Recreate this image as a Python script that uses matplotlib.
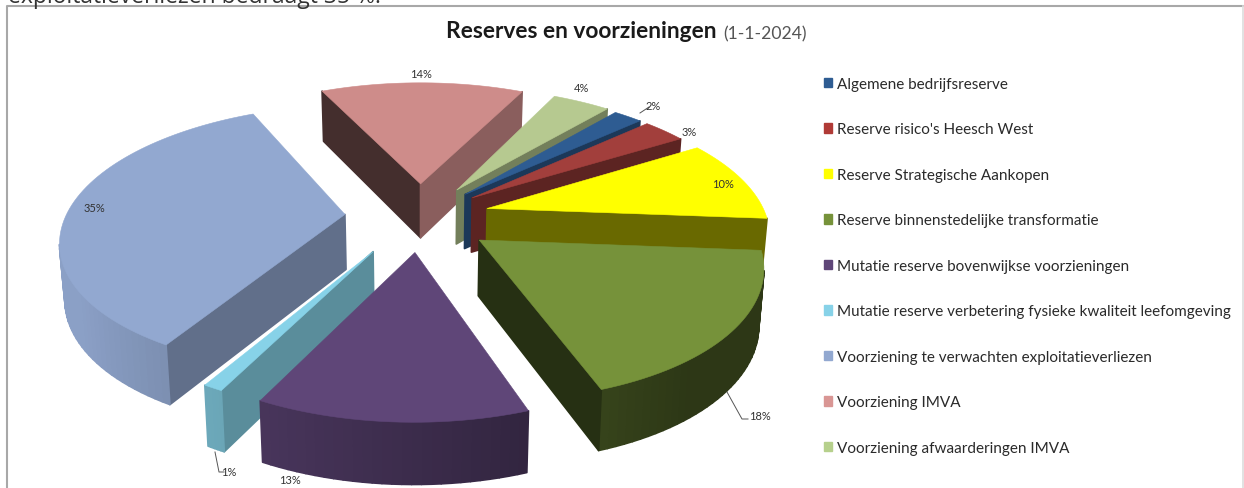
import numpy as np
import matplotlib
matplotlib.use("Agg")
import matplotlib.pyplot as plt
from matplotlib.patches import Polygon, Patch
from matplotlib.colors import to_rgb

categories = ["Algemene bedrijfsreserve", "Reserve risico's Heesch West", "Reserve Strategische Aankopen",
              "Reserve binnenstedelijke transformatie", "Mutatie reserve bovenwijkse voorzieningen",
              "Mutatie reserve verbetering fysieke kwaliteit leefomgeving",
              "Voorziening te verwachten exploitatieverliezen", "Voorziening IMVA", "Voorziening afwaarderingen IMVA"]
values = [2, 3, 10, 18.4, 12.8, 1, 34.6, 14.2, 4]
colors = ["#2E5C92", "#A23F3C", "#FFFF00", "#76923A", "#5F4678", "#87D2E8", "#92A8D0", "#CE8C8A", "#B6C990"]
explode = [0.24, 0.24, 0.25, 0.26, 0.27, 0.30, 0.27, 0.26, 0.25]
radius = [1, 1, 1, 0.97, 0.98, 0.93, 1, 1, 1]
shift_x = [0, 0, 0, 0, 0, -5, 0, 0, 0]
shift_y = [0, 0, 0, 3, 0, 0, 0, 0, 0]
legend_colors = ["#2E5C92", "#B03A36", "#FFFF00", "#76923A", "#5F4678", "#87D2E8", "#92A8D0", "#D99694", "#B6D08C"]

# pie layout in pixels of the picture
CX, CY = 420, 217
RX, RY = 279, 129
PERSP = 0.175
DEPTH = 55
START = 40.4

# where the percent labels sit
label_xy = [(653, 106), (689, 133), (723, 184), (760, 416), (290, 481), (229, 472), (94, 208), (421, 75), (581, 89)]
leaders = [([640, 649], [114, 108]), ([727, 742, 748], [393, 420, 420]), ([215, 219, 224], [453, 473, 473])]


def project(u, v):
	w = 1 + PERSP * v
	return CX + RX * u / w, CY - RY * v / w


def below(x, y, v):
	w = 1 + PERSP * v
	return CX + (x - CX) * 0.985, y + DEPTH / w ** 0.5


def shade(col, f):
	return tuple(np.array(to_rgb(col)) * f)


fig = plt.figure(figsize=(12.44, 4.89), dpi=100)
ax = fig.add_axes([0, 0, 1, 1])
ax.set_xlim(0, 1244)
ax.set_ylim(489, 0)
ax.axis("off")

# chart frame and the cut off line of text above it
ax.plot([7, 7, 1243], [489, 6.5, 6.5], color="#A8A8A8", lw=1.5)
ax.plot([1243, 1243], [7, 489], color="#DDDDDD", lw=1.2)
ax.text(8, 3, "exploitatieverliezen bedraagt 35 %.", fontsize=16.5, family="Open Sans", color="#333333", va="baseline")

vals = np.array(values, dtype=float)
a0 = START + np.concatenate([[0], np.cumsum(vals)[:-1]]) * 3.6
a1 = a0 + vals * 3.6
mid = (a0 + a1) / 2

# far slices first
for i in np.argsort(-np.cos(np.radians(mid))):
	col = colors[i]
	ang = np.radians(np.linspace(a0[i], a1[i], int(vals[i] * 2) + 4))
	ox = explode[i] * np.sin(np.radians(mid[i]))
	oy = explode[i] * np.cos(np.radians(mid[i]))
	us = np.concatenate([[ox], ox + radius[i] * np.sin(ang)])
	vs = np.concatenate([[oy], oy + radius[i] * np.cos(ang)])
	px, py = project(us, vs)
	px = px + shift_x[i]
	py = py + shift_y[i]
	bx, by = below(px, py, vs)

	area = np.sum(px * np.roll(py, -1) - np.roll(px, -1) * py)
	n = len(px)
	for j in range(n):
		k = (j + 1) % n
		dx = px[k] - px[j]
		# wall shows only if its outward side points down the screen
		if -dx * np.sign(area) <= 0:
			continue
		if j == 0 or j == n - 1:
			a = a0[i] if j == 0 else a1[i]
			sgn = -1 if j == 0 else 1
			nx = np.sin(np.radians(a + sgn * 90))
			f = 0.42 + (0.28 if nx > 0 else 0.1) * nx
		else:
			f = 0.62 - 0.3 * (us[j] + us[k]) / 2
			f = min(max(f, 0.38), 0.95)
		c = shade(col, f)
		ax.add_patch(Polygon([(px[j], py[j]), (px[k], py[k]), (bx[k], by[k]), (bx[j], by[j])],
			closed=True, fc=c, ec=c, lw=1.2, joinstyle="round"))
	ax.add_patch(Polygon(np.column_stack([px, py]), closed=True, fc=col, ec=col, lw=0.4))

for xs, ys in leaders:
	ax.plot(xs, ys, color="#555555", lw=0.7)
for v, (x, y) in zip(values, label_xy):
	ax.text(x, y, "%.0f%%" % v, fontsize=8, family="Lato", color="#333333", ha="center", va="center")

ax.text(446, 32, "Reserves en voorzieningen", fontsize=16.4, family="Lato", weight="bold", color="#1A1A1A", va="center")
ax.text(723, 34, "(1-1-2024)", fontsize=12.6, family="Lato", color="#555555", va="center")

handles = [Patch(fc=c, ec=c) for c in legend_colors]
ax.legend(handles, categories, loc="upper left", bbox_to_anchor=(824, 78), bbox_transform=ax.transData,
	frameon=False, prop={"family": "Lato", "size": 11}, labelcolor="#2A2A2A", labelspacing=2.06,
	handlelength=0.55, handleheight=0.55, handletextpad=0.33, borderpad=0, borderaxespad=0)

fig.savefig("out.png", dpi=100)
